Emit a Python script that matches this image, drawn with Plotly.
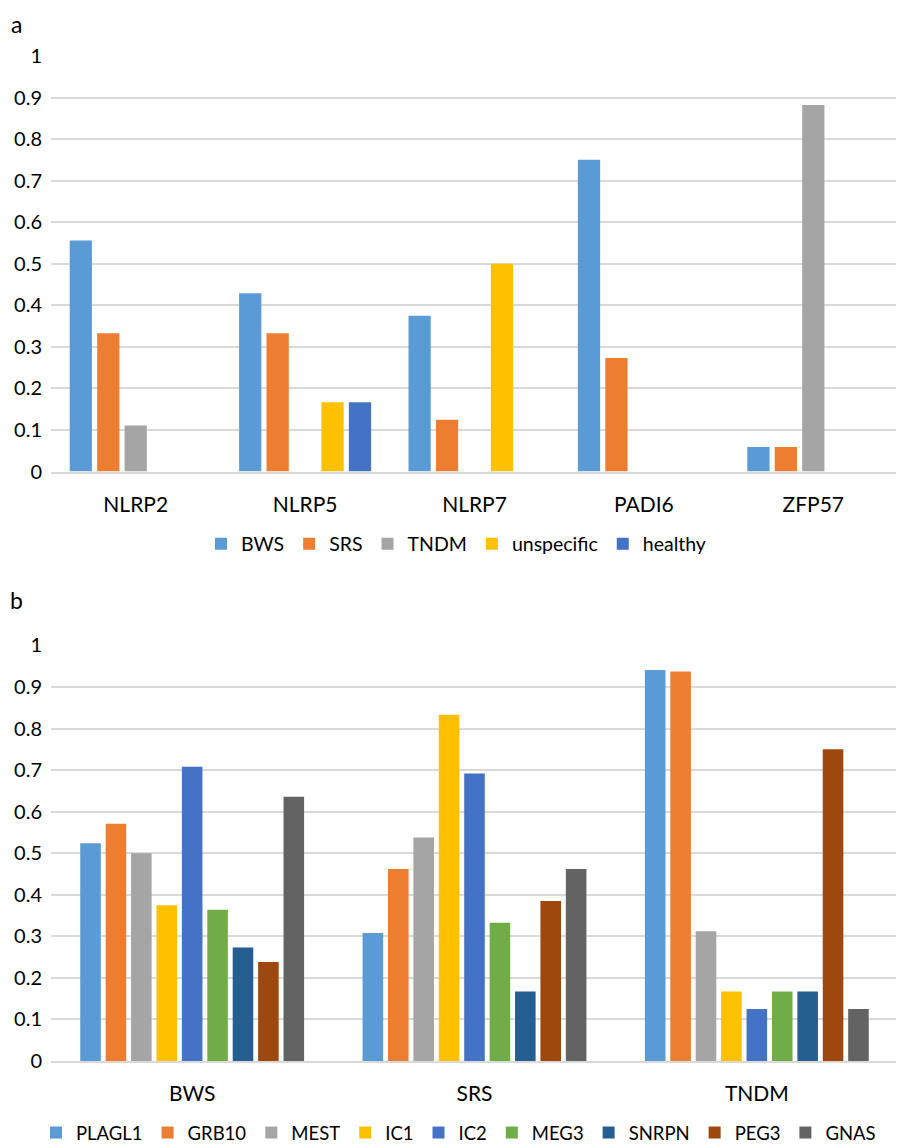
import plotly.graph_objects as go
from plotly.subplots import make_subplots

# Panel a data
genes_a = ["NLRP2", "NLRP5", "NLRP7", "PADI6", "ZFP57"]
bws_a = [0.556, 0.429, 0.375, 0.75, 0.059]
srs_a = [0.333, 0.333, 0.125, 0.273, 0.059]
tndm_a = [0.111, 0, 0, 0, 0.882]
unspecific_a = [0, 0.167, 0.5, 0, 0]
healthy_a = [0, 0.167, 0, 0, 0]

# Panel b data
groups_b = ["BWS", "SRS", "TNDM"]
plagl1 = [0.524, 0.308, 0.941]
grb10 = [0.571, 0.462, 0.9375]
mest = [0.5, 0.538, 0.3125]
ic1 = [0.375, 0.833, 0.167]
ic2 = [0.708, 0.692, 0.125]
meg3 = [0.364, 0.333, 0.167]
snrpn = [0.273, 0.167, 0.167]
peg3 = [0.238, 0.385, 0.75]
gnas = [0.636, 0.462, 0.125]

series_a = [("BWS", bws_a), ("SRS", srs_a), ("TNDM", tndm_a),
            ("unspecific", unspecific_a), ("healthy", healthy_a)]
series_b = [("PLAGL1", plagl1), ("GRB10", grb10), ("MEST", mest), ("IC1", ic1),
            ("IC2", ic2), ("MEG3", meg3), ("SNRPN", snrpn), ("PEG3", peg3), ("GNAS", gnas)]

colors = ["#5B9BD5", "#ED7D31", "#A5A5A5", "#FFC000", "#4472C4",
          "#70AD47", "#255E91", "#9E480E", "#636363"]

# page offset (body margin) compensation
OFF = 8
W, H = 904, 1144
L, R, T, B = 51 - OFF, 14, 0, 56
PW = W - L - R
PH = H - T - B


def px_x(px):
    return (px - OFF - L) / PW


def px_y(py):
    return 1 - (py - OFF - T) / PH


fig = make_subplots(rows=2, cols=1)

for i, (name, vals) in enumerate(series_a):
    fig.add_trace(go.Bar(x=genes_a, y=vals, name=name, marker_color=colors[i],
                         marker_line_width=0, legend="legend"), row=1, col=1)
for i, (name, vals) in enumerate(series_b):
    fig.add_trace(go.Bar(x=groups_b, y=vals, name=name, marker_color=colors[i],
                         marker_line_width=0, legend="legend2"), row=2, col=1)

FAM = "Lato, Open Sans, sans-serif"
font = dict(family=FAM, size=21, color="#000000")
yfont = dict(family=FAM, size=20, color="#000000")
lfont_a = dict(family=FAM, size=19.5, color="#000000")
lfont_b = dict(family=FAM, size=18.5, color="#000000")

fig.update_layout(
    template="none",
    width=W, height=H,
    margin=dict(l=L, r=R, t=T, b=B, pad=0),
    paper_bgcolor="white", plot_bgcolor="white",
    barmode="group", bargap=0.19, bargroupgap=0.19,
    font=font,
    showlegend=True,
    legend=dict(orientation="h", x=px_x(456), xanchor="center",
                y=px_y(544), yanchor="middle", font=lfont_a,
                bgcolor="rgba(0,0,0,0)", borderwidth=0,
                itemsizing="constant", traceorder="normal"),
    legend2=dict(orientation="h", x=px_x(36), xanchor="left",
                 y=px_y(1115), yanchor="top", font=lfont_b,
                 bgcolor="rgba(0,0,0,0)", borderwidth=0,
                 itemsizing="constant", traceorder="normal"),
    annotations=[
        dict(text="a", x=px_x(16), y=1, xref="paper", yref="paper",
             xanchor="center", yanchor="top",
             showarrow=False, font=dict(family=FAM, size=23, color="black")),
        dict(text="b", x=px_x(16), y=px_y(601), xref="paper", yref="paper",
             xanchor="center", yanchor="middle",
             showarrow=False, font=dict(family=FAM, size=23, color="black")),
    ],
)

yax = dict(range=[0, 1], dtick=0.1, tick0=0, showgrid=True, gridcolor="#D9D9D9",
           gridwidth=1.5, zeroline=False, showline=False, ticks="",
           ticklabelstandoff=8, tickfont=yfont, automargin=False)
xax = dict(showline=True, linecolor="#D9D9D9", linewidth=1.5, ticks="",
           showgrid=False, tickfont=font, ticklabelstandoff=13, automargin=False)

fig.update_yaxes(yax)
fig.update_xaxes(xax)
fig.update_layout(
    xaxis=dict(domain=[0, 1]),
    xaxis2=dict(domain=[0, 1]),
    yaxis=dict(domain=[px_y(472), px_y(56)]),
    yaxis2=dict(domain=[px_y(1062), px_y(646)]),
)

fig.write_html("out.html")
